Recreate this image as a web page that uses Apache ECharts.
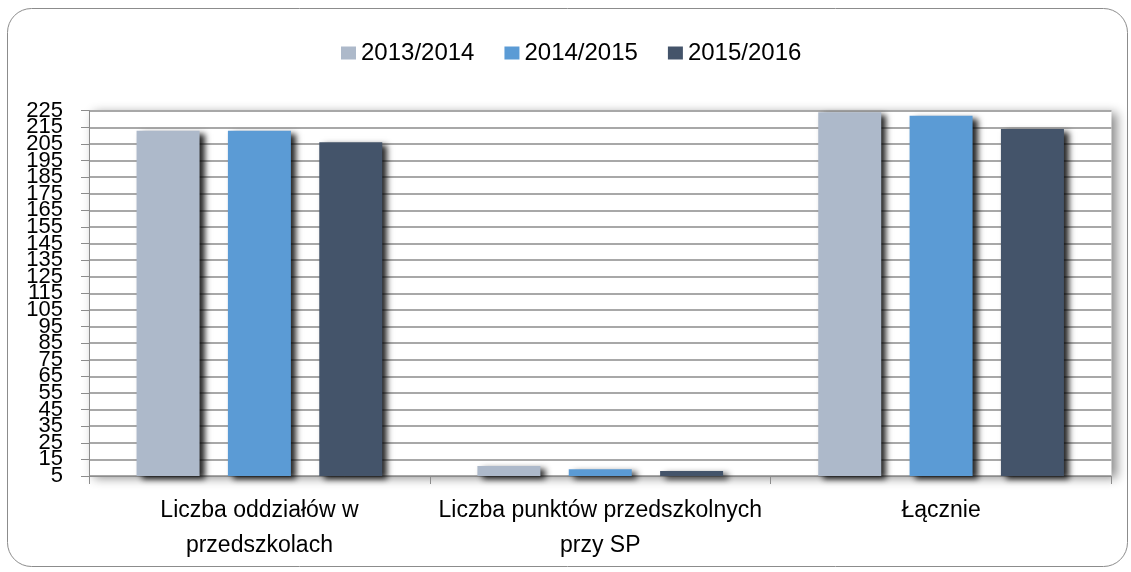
<!DOCTYPE html>
<html>
<head>
<meta charset="utf-8">
<script src="https://cdn.jsdelivr.net/npm/echarts@6/dist/echarts.min.js"></script>
<style>
  html, body { margin: 0; padding: 0; background: #fff; }
  #chart { width: 1131px; height: 572px; }
</style>
</head>
<body>
<div id="chart"></div>
<script>
// categories and series
const categories = ['Liczba oddziałów w\nprzedszkolach', 'Liczba punktów przedszkolnych\nprzy SP', 'Łącznie'];
const years = ['2013/2014', '2014/2015', '2015/2016'];
const values2013 = [213, 11, 224];
const values2014 = [213, 9, 222];
const values2015 = [206, 8, 214];
const colors = ['#adb9ca', '#5b9bd5', '#44546a'];
// y tick labels, 5 .. 225
const yTicks = ['5', '15', '25', '35', '45', '55', '65', '75', '85', '95', '105', '115',
  '125', '135', '145', '155', '165', '175', '185', '195', '205', '215', '225'];

const font = "'Liberation Sans', Arial, sans-serif";

function makeSeries(name, data, color) {
  return {
    name: name,
    type: 'bar',
    data: data,
    yAxisIndex: 0,
    barWidth: 63,
    barGap: '45%',
    itemStyle: {
      color: color,
      shadowColor: 'rgba(0,0,0,0.85)',
      shadowBlur: 6,
      shadowOffsetX: 5,
      shadowOffsetY: 3
    }
  };
}

const chart = echarts.init(document.getElementById('chart'));
chart.setOption({
  animation: false,
  textStyle: { fontFamily: font },
  graphic: [{
    type: 'rect',
    shape: { x: 7.5, y: 8.5, width: 1120, height: 558, r: 24 },
    style: { fill: 'none', stroke: '#8c8c8c', lineWidth: 1 },
    z: -10
  }],
  legend: {
    left: 336,
    top: 36,
    itemWidth: 15,
    itemHeight: 13,
    itemGap: 30,
    icon: 'rect',
    textStyle: { fontSize: 24, color: '#000', fontFamily: font },
    data: years
  },
  grid: {
    left: 89,
    right: 19.5,
    top: 110.7,
    bottom: 96,
    show: true,
    backgroundColor: '#fff',
    borderWidth: 0,
    shadowColor: 'rgba(0,0,0,0.45)',
    shadowBlur: 10,
    shadowOffsetX: 5,
    shadowOffsetY: 2
  },
  xAxis: {
    type: 'category',
    data: categories,
    axisLine: { lineStyle: { color: '#8c8c8c', width: 1 } },
    axisTick: { show: true, length: 8, lineStyle: { color: '#8c8c8c' } },
    axisLabel: {
      interval: 0,
      hideOverlap: false,
      color: '#000',
      fontSize: 23,
      lineHeight: 35,
      margin: 17,
      fontFamily: font
    }
  },
  yAxis: [{
    type: 'value',
    min: 5,
    max: 225,
    interval: 10,
    axisLine: { show: true, lineStyle: { color: '#8c8c8c', width: 1 } },
    axisTick: { show: true, length: 8, lineStyle: { color: '#8c8c8c' } },
    axisLabel: { show: false },
    splitLine: { lineStyle: { color: '#a8a8a8', width: 2 } }
  }, {
    // label-only axis so that every overlapping tick label stays visible
    type: 'category',
    data: yTicks,
    boundaryGap: false,
    position: 'left',
    axisLine: { show: false },
    axisTick: { show: false },
    splitLine: { show: false },
    axisLabel: {
      interval: 0,
      hideOverlap: false,
      color: '#000',
      fontSize: 22,
      margin: 26,
      fontFamily: font
    }
  }],
  series: [
    makeSeries(years[0], values2013, colors[0]),
    makeSeries(years[1], values2014, colors[1]),
    makeSeries(years[2], values2015, colors[2])
  ]
});
</script>
</body>
</html>
